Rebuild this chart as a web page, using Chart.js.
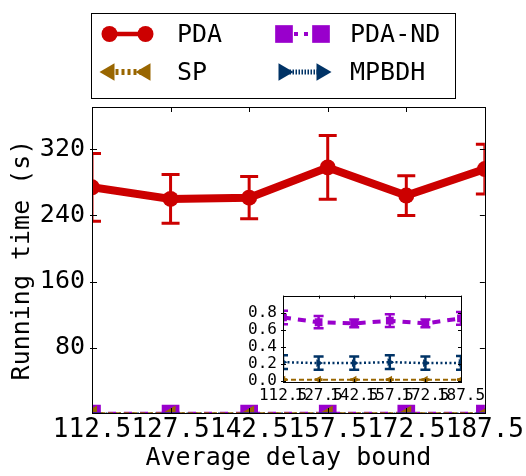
<!DOCTYPE html>
<html>
<head>
<meta charset="utf-8">
<script src="https://cdn.jsdelivr.net/npm/chart.js@4.4.1/dist/chart.umd.min.js"></script>
<style>
  html, body { margin: 0; padding: 0; background: #fff; }
  #wrap { position: relative; width: 526px; height: 476px; }
  #mainChart { position: absolute; left: 0; top: 0; }
  #insetChart { position: absolute; left: 230px; top: 280px; }
</style>
</head>
<body>
<div id="wrap">
  <canvas id="mainChart" width="526" height="476"></canvas>
  <canvas id="insetChart" width="280" height="130"></canvas>
</div>
<script>
// running times (s) per average delay bound, with error bar half-widths
const delayBounds = ['112.5', '127.5', '142.5', '157.5', '172.5', '187.5'];
const pdaTime   = [274, 260, 261.5, 298, 264, 296];
const pdaErr    = [41, 29.5, 25.5, 38.5, 24, 30];
const pdaNdTime = [0.743, 0.687, 0.673, 0.705, 0.673, 0.733];
const pdaNdErr  = [0.08, 0.072, 0.045, 0.075, 0.045, 0.075];
const spTime    = [0.012, 0.013, 0.012, 0.013, 0.012, 0.013];
const spErr     = [0.004, 0.004, 0.004, 0.004, 0.004, 0.004];
const mpbdhTime = [0.218, 0.207, 0.207, 0.218, 0.207, 0.21];
const mpbdhErr  = [0.08, 0.077, 0.077, 0.08, 0.077, 0.08];
const mainTicks  = [80, 160, 240, 320];
const insetTicks = [0.0, 0.2, 0.4, 0.6, 0.8];

const FONT = 'DejaVu Sans Mono';
const RED = '#cc0000', PURPLE = '#9900cc', BROWN = '#996600', NAVY = '#003366';

// series styles; index 0 is drawn on top by Chart.js
function makeSets(big) {
  return [
    { label: 'PDA', data: pdaTime, err: pdaErr, borderColor: RED, backgroundColor: RED,
      borderWidth: 8, pointStyle: 'circle', pointRadius: 8, capW: 9, errW: 3, hidden: !big,
      legendLine: { width: 4.5, dash: [] } },
    { label: 'SP', data: spTime, err: spErr, borderColor: BROWN, backgroundColor: BROWN,
      borderWidth: big ? 4 : 2, borderDash: [5, 3], pointStyle: 'triangle', rotation: 270,
      pointRadius: big ? 10 : 4.5, capW: big ? 9 : 4, errW: big ? 3 : 2,
      legendLine: { width: 6, dash: [3, 3] } },
    { label: 'PDA-ND', data: pdaNdTime, err: pdaNdErr, borderColor: PURPLE, backgroundColor: PURPLE,
      borderWidth: 4, borderDash: big ? [8, 8] : [8, 7], pointStyle: 'rect',
      pointRadius: big ? 12.5 : 5.5, capW: big ? 9 : 5, errW: big ? 3 : 2.5,
      legendLine: { width: 4, dash: [4, 6] } },
    { label: 'MPBDH', data: mpbdhTime, err: mpbdhErr, borderColor: NAVY, backgroundColor: NAVY,
      borderWidth: big ? 3 : 2.5, borderDash: [2, 2.5], pointStyle: 'triangle', rotation: 90,
      pointRadius: big ? 10 : 4.5, capW: big ? 9 : 5, errW: big ? 3 : 2.5,
      legendLine: { width: 5, dash: [1.5, 1.5] } }
  ].map(d => Object.assign({ tension: 0, clip: 0, pointBorderWidth: 0, pointHoverRadius: d.pointRadius }, d));
}

// vertical error bars with caps, read from dataset.err
const errorBars = {
  id: 'errorBars',
  afterDatasetsDraw(chart) {
    const { ctx, chartArea: a, scales: { x, y } } = chart;
    ctx.save();
    ctx.beginPath();
    ctx.rect(a.left, a.top, a.right - a.left, a.bottom - a.top);
    ctx.clip();
    chart.data.datasets.forEach((ds, i) => {
      if (!chart.isDatasetVisible(i) || !ds.err) return;
      ctx.strokeStyle = ds.borderColor;
      ctx.lineWidth = ds.errW;
      ds.data.forEach((v, j) => {
        const px = x.getPixelForValue(j);
        const top = y.getPixelForValue(v + ds.err[j]);
        const bot = y.getPixelForValue(v - ds.err[j]);
        ctx.beginPath();
        ctx.moveTo(px, top); ctx.lineTo(px, bot);
        ctx.moveTo(px - ds.capW, top); ctx.lineTo(px + ds.capW, top);
        ctx.moveTo(px - ds.capW, bot); ctx.lineTo(px + ds.capW, bot);
        ctx.stroke();
      });
    });
    ctx.restore();
  }
};

// axes box with inward ticks on every side
function framePlugin(tickLen, fill) {
  return {
    id: 'frame',
    beforeDatasetsDraw(chart) {
      if (!fill) return;
      const { ctx, chartArea: a } = chart;
      ctx.save();
      ctx.fillStyle = '#fff';
      ctx.fillRect(a.left, a.top, a.right - a.left, a.bottom - a.top);
      ctx.restore();
    },
    afterDraw(chart) {
      const { ctx, chartArea: a, scales: { x, y } } = chart;
      ctx.save();
      ctx.strokeStyle = '#000';
      ctx.lineWidth = 1;
      ctx.strokeRect(Math.round(a.left) + 0.5, Math.round(a.top) + 0.5,
        Math.round(a.right - a.left), Math.round(a.bottom - a.top));
      ctx.beginPath();
      x.ticks.forEach((t, i) => {
        const px = Math.round(x.getPixelForTick(i)) + 0.5;
        ctx.moveTo(px, a.bottom); ctx.lineTo(px, a.bottom - tickLen);
        ctx.moveTo(px, a.top); ctx.lineTo(px, a.top + tickLen);
      });
      y.ticks.forEach(t => {
        const py = Math.round(y.getPixelForValue(t.value)) + 0.5;
        ctx.moveTo(a.left - 2, py); ctx.lineTo(a.left + tickLen, py);
        ctx.moveTo(a.right, py); ctx.lineTo(a.right - tickLen, py);
      });
      ctx.stroke();
      ctx.restore();
    }
  };
}

function drawMarker(ctx, ds, cx, cy) {
  const r = ds.pointRadius;
  ctx.fillStyle = ds.backgroundColor;
  ctx.beginPath();
  if (ds.pointStyle === 'circle') {
    ctx.arc(cx, cy, r, 0, Math.PI * 2);
  } else if (ds.pointStyle === 'rect') {
    const s = r * Math.SQRT1_2;
    ctx.rect(cx - s, cy - s, 2 * s, 2 * s);
  } else {
    const rot = (ds.rotation || 0) * Math.PI / 180;
    for (let k = 0; k < 3; k++) {
      const ang = rot - Math.PI / 2 + k * 2 * Math.PI / 3;
      const px = cx + r * Math.cos(ang), py = cy + r * Math.sin(ang);
      k ? ctx.lineTo(px, py) : ctx.moveTo(px, py);
    }
    ctx.closePath();
  }
  ctx.fill();
}

// two-column legend box above the plot
const legendBox = {
  id: 'legendBox',
  afterDraw(chart) {
    const { ctx } = chart;
    const sets = chart.data.datasets;
    const slots = { 'PDA': [0, 0], 'SP': [0, 1], 'PDA-ND': [1, 0], 'MPBDH': [1, 1] };
    const colX = [[101, 154, 177], [275, 330, 350]];
    const rowY = [34, 72];
    ctx.save();
    ctx.strokeStyle = '#000';
    ctx.lineWidth = 1;
    ctx.strokeRect(91.5, 13.5, 364, 85);
    sets.forEach(ds => {
      const [c, r] = slots[ds.label];
      const [x0, x1, tx] = colX[c];
      const y = rowY[r];
      const inset = ds.pointStyle === 'rect' ? 9 : 8.5;
      ctx.strokeStyle = ds.borderColor;
      ctx.lineWidth = ds.legendLine.width;
      ctx.setLineDash(ds.legendLine.dash);
      ctx.beginPath();
      ctx.moveTo(x0 + inset, y); ctx.lineTo(x1 - inset, y);
      ctx.stroke();
      ctx.setLineDash([]);
      drawMarker(ctx, ds, x0 + inset, y);
      drawMarker(ctx, ds, x1 - inset, y);
      ctx.fillStyle = '#000';
      ctx.font = '25px "' + FONT + '"';
      ctx.textBaseline = 'middle';
      ctx.fillText(ds.label, tx, y + 1);
    });
    ctx.restore();
  }
};

const noGrid = { display: false, drawTicks: false };

Chart.defaults.font.family = FONT;

new Chart(document.getElementById('mainChart'), {
  type: 'line',
  data: { labels: delayBounds, datasets: makeSets(true) },
  options: {
    responsive: false,
    animation: false,
    events: [],
    layout: { padding: { top: 107, right: 40, left: 0, bottom: 0 } },
    plugins: { legend: { display: false }, tooltip: { enabled: false } },
    scales: {
      x: {
        type: 'category',
        offset: false,
        grid: noGrid,
        border: { display: false },
        ticks: { color: '#000', font: { family: FONT, size: 26 }, autoSkip: false, maxRotation: 0, padding: 2 },
        title: { display: true, text: 'Average delay bound', color: '#000',
                 font: { family: FONT, size: 25 }, padding: { top: 0, bottom: 3 } },
        afterFit: s => { s.height = 63; }
      },
      y: {
        min: 1.5,
        max: 371,
        grid: noGrid,
        border: { display: false },
        ticks: { color: '#000', font: { family: FONT, size: 25 }, padding: 7, autoSkip: false },
        afterBuildTicks: s => { s.ticks = mainTicks.map(v => ({ value: v })); },
        title: { display: true, text: 'Running time (s)', color: '#000',
                 font: { family: FONT, size: 25 }, padding: { top: 7, bottom: 0 } },
        afterFit: s => { s.width = 92; }
      }
    }
  },
  plugins: [framePlugin(5, false), errorBars, legendBox]
});

new Chart(document.getElementById('insetChart'), {
  type: 'line',
  data: { labels: delayBounds, datasets: makeSets(false) },
  options: {
    responsive: false,
    animation: false,
    events: [],
    layout: { padding: { top: 7, right: 49, left: 0, bottom: 0 } },
    plugins: { legend: { display: false }, tooltip: { enabled: false } },
    scales: {
      x: {
        type: 'category',
        offset: false,
        grid: noGrid,
        border: { display: false },
        ticks: { color: '#000', font: { family: FONT, size: 16 }, autoSkip: false, maxRotation: 0, padding: 4 },
        afterFit: s => { s.height = 28; }
      },
      y: {
        min: -0.015,
        max: 1.0,
        grid: noGrid,
        border: { display: false },
        ticks: { color: '#000', font: { family: FONT, size: 16 }, padding: 6, autoSkip: false,
                 callback: v => Number(v).toFixed(1) },
        afterBuildTicks: s => { s.ticks = insetTicks.map(v => ({ value: v })); },
        afterFit: s => { s.width = 53; }
      }
    }
  },
  plugins: [framePlugin(3, true), errorBars]
});
</script>
</body>
</html>
